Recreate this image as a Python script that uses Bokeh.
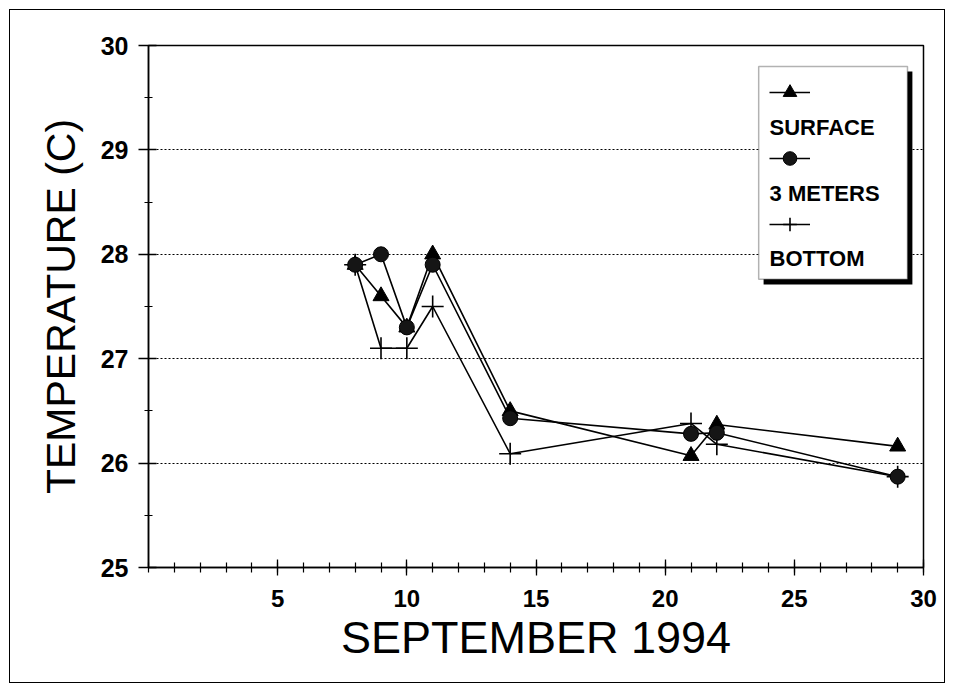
from bokeh.plotting import figure
from bokeh.models import (FixedTicker, Range1d, BoxAnnotation, Label, Legend,
                          LegendItem, ColumnDataSource)
from bokeh.embed import file_html
from bokeh.resources import INLINE

# ---- data ----
days = [8, 9, 10, 11, 14, 21, 22, 29]
surface = [27.9, 27.6, 27.3, 28.0, 26.5, 26.07, 26.37, 26.16]
meters3 = [27.9, 28.0, 27.3, 27.9, 26.43, 26.28, 26.29, 25.87]
bottom = [27.9, 27.1, 27.1, 27.5, 26.09, 26.38, 26.18, 25.87]
series_names = ["SURFACE", "3 METERS", "BOTTOM"]
x_ticks = [5, 10, 15, 20, 25, 30]
y_ticks = [25, 26, 27, 28, 29, 30]
grid_values = [26, 27, 28, 29]
x_title = "SEPTEMBER 1994"
y_title = "TEMPERATURE (C)"

FONT = "Liberation Sans"

p = figure(width=936, height=674, x_range=Range1d(0, 30), y_range=Range1d(25, 30),
           output_backend="svg", toolbar_location=None,
           min_border_left=138, min_border_right=23, min_border_top=35,
           min_border_bottom=117)
p.styles = {"border": "1px solid black", "margin-left": "9px", "margin-top": "9px"}
p.background_fill_color = "white"
p.border_fill_color = "white"
p.outline_line_color = "black"
p.outline_line_width = 1.5

# ticks
p.xaxis.ticker = FixedTicker(ticks=x_ticks, minor_ticks=list(range(0, 31)))
p.yaxis.ticker = FixedTicker(ticks=y_ticks,
                             minor_ticks=[v + 0.5 for v in y_ticks[:-1]])
p.xgrid.visible = False
p.ygrid.ticker = FixedTicker(ticks=grid_values)
p.ygrid.grid_line_color = "black"
p.ygrid.grid_line_dash = "2 2"
p.ygrid.grid_line_width = 1

for ax in (p.xaxis[0], p.yaxis[0]):
    ax.axis_line_color = "black"
    ax.axis_line_width = 1.5
    ax.major_tick_line_color = "black"
    ax.minor_tick_line_color = "black"
    ax.major_tick_line_width = 1.3
    ax.minor_tick_line_width = 1.2
    ax.major_label_text_font = FONT
    ax.major_label_text_font_style = "bold"
    ax.major_label_text_color = "black"
    ax.axis_label_text_font = FONT
    ax.axis_label_text_font_style = "normal"
    ax.axis_label_text_color = "black"

p.xaxis.major_tick_in = 8
p.xaxis.major_tick_out = 8
p.xaxis.minor_tick_in = 5
p.xaxis.minor_tick_out = 5
p.xaxis.major_label_text_font_size = "24px"
p.xaxis.major_label_standoff = 14
p.xaxis.axis_label = x_title
p.xaxis.axis_label_text_font_size = "45px"
p.xaxis.axis_label_standoff = 2

p.yaxis.major_tick_in = 8
p.yaxis.major_tick_out = 10
p.yaxis.minor_tick_in = 4
p.yaxis.minor_tick_out = 4
p.yaxis.major_label_text_font_size = "25px"
p.yaxis.major_label_standoff = 10
p.yaxis.axis_label = y_title
p.yaxis.axis_label_text_font_size = "41px"
p.yaxis.axis_label_standoff = 14

# ---- series ----
src = ColumnDataSource(dict(day=days, surface=surface, m3=meters3, bottom=bottom))

lb = p.line("day", "bottom", source=src, line_color="black", line_width=1.6)
sb = p.scatter("day", "bottom", source=src, marker="cross", size=22,
               line_color="black", line_width=1.6)
ls = p.line("day", "surface", source=src, line_color="black", line_width=1.6)
ss = p.scatter("day", "surface", source=src, marker="triangle", size=16,
               fill_color="black", line_color="black")
lm = p.line("day", "m3", source=src, line_color="black", line_width=1.6)
sm = p.scatter("day", "m3", source=src, marker="circle", size=15,
               fill_color="#151515", line_color="black")

# ---- legend (box, shadow, glyph rows, text rows) ----
shadow = BoxAnnotation(left=23.81, right=29.57, top=29.75, bottom=27.71,
                       fill_color="black", fill_alpha=1, line_color=None,
                       level="underlay")
box = BoxAnnotation(left=23.62, right=29.38, top=29.80, bottom=27.76,
                    fill_color="white", fill_alpha=1, line_color="black",
                    line_width=1.5, level="underlay")
p.add_layout(shadow)
p.add_layout(box)

legend = Legend(items=[LegendItem(label="", renderers=[ls, ss]),
                       LegendItem(label="", renderers=[lm, sm]),
                       LegendItem(label="", renderers=[lb, sb])],
                location=(621, 326), orientation="vertical",
                glyph_width=41, glyph_height=34, label_height=34, label_width=0,
                label_standoff=0, spacing=32, padding=0, margin=0,
                border_line_color=None, background_fill_alpha=0)
p.add_layout(legend)

label_y = [29.21, 28.58, 27.96]
for name, yy in zip(series_names, label_y):
    p.add_layout(Label(x=24.04, y=yy, text=name, text_font=FONT,
                       text_font_style="bold", text_font_size="22px",
                       text_baseline="middle", text_color="black"))

open("out.html", "w").write(file_html(p, INLINE))
